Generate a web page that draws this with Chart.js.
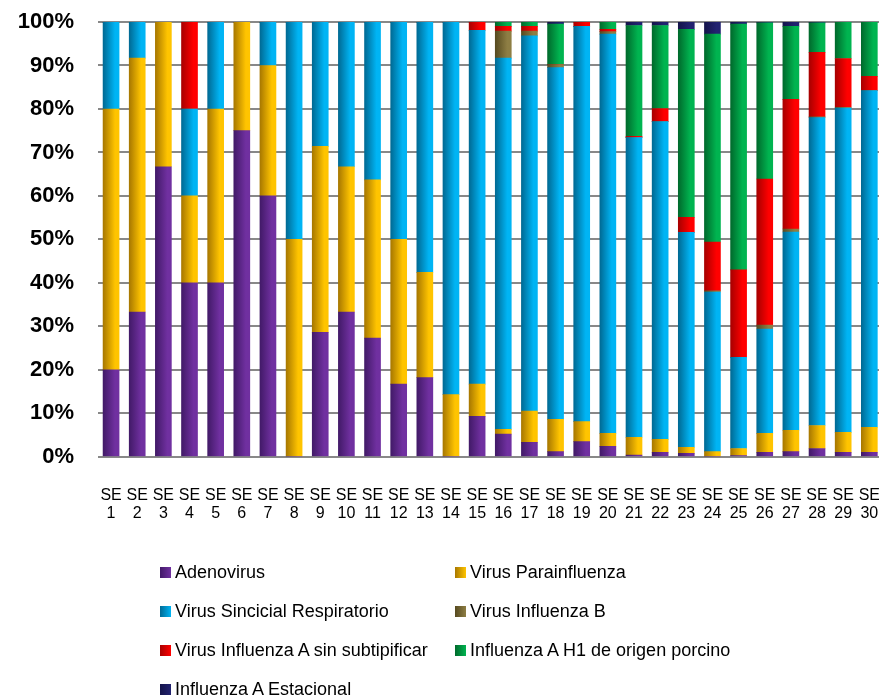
<!DOCTYPE html>
<html>
<head>
<meta charset="utf-8">
<script src="https://cdn.jsdelivr.net/npm/chart.js@4.4.1/dist/chart.umd.min.js"></script>
<style>
  html, body { margin: 0; padding: 0; background: #fff; overflow: hidden; }
  #wrap { position: relative; width: 884px; height: 696px; }
  #legend { position: absolute; left: 160px; top: 561px; width: 640px;
    display: grid; grid-template-columns: 295px 330px; row-gap: 17px;
    font-family: "Liberation Sans", Arial, sans-serif; font-size: 18px; color: #000; }
  .item { display: flex; align-items: center; height: 22px; white-space: nowrap; }
  .box { width: 11px; height: 11px; margin-right: 4px; }
</style>
</head>
<body>
<div id="wrap">
  <canvas id="chart" width="884" height="696"></canvas>
  <div id="legend"></div>
</div>
<script>
// data (percent of positive samples per epidemiological week)

const weeks = Array.from({ length: 30 }, (_, i) => ['SE', String(i + 1)]);

const adenovirus     = [20, 33.3, 66.7, 40, 40, 75, 60, 0, 28.6, 33.3, 27.3, 16.7, 18.2, 0, 9.3, 5.2, 3.3, 1.2, 3.5, 2.4, 0.4, 1.0, 0.8, 0, 0.3, 1.0, 1.2, 1.9, 1.0, 1.0];
const parainfluenza  = [60, 58.4, 33.3, 20, 40, 25, 30, 50, 42.8, 33.4, 36.4, 33.3, 24.2, 14.3, 7.4, 1.1, 7.2, 7.4, 4.6, 3.0, 4.1, 3.0, 1.4, 1.2, 1.6, 4.4, 4.9, 5.3, 4.6, 5.8];
const sincicial      = [20, 8.3, 0, 20, 20, 0, 10, 50, 28.6, 33.3, 36.3, 50, 57.6, 85.7, 81.4, 85.4, 86.3, 80.9, 90.9, 91.8, 68.9, 73.1, 49.4, 36.7, 21.0, 24.0, 45.6, 70.8, 74.6, 77.4];
const influenzaB     = [0, 0, 0, 0, 0, 0, 0, 0, 0, 0, 0, 0, 0, 0, 0, 6.2, 1.1, 0.7, 0, 0.6, 0, 0, 0, 0.3, 0, 0.9, 0.7, 0.2, 0.2, 0];
const influenzaASin  = [0, 0, 0, 20, 0, 0, 0, 0, 0, 0, 0, 0, 0, 0, 1.9, 1.1, 1.1, 0, 1.0, 0.5, 0.3, 3.0, 3.5, 11.2, 20.1, 33.6, 29.8, 14.8, 11.2, 3.3];
const h1Porcino      = [0, 0, 0, 0, 0, 0, 0, 0, 0, 0, 0, 0, 0, 0, 0, 1.0, 1.0, 9.3, 0, 1.7, 25.5, 19.1, 43.2, 47.8, 56.5, 35.9, 16.8, 6.8, 8.4, 12.5];
const estacional     = [0, 0, 0, 0, 0, 0, 0, 0, 0, 0, 0, 0, 0, 0, 0, 0, 0, 0.5, 0, 0, 0.8, 0.8, 1.7, 2.8, 0.5, 0.2, 1.0, 0.2, 0, 0];

const yTicks = [0, 10, 20, 30, 40, 50, 60, 70, 80, 90, 100];

// colours: dark edge, light edge of each bar
const series = [
  { label: 'Adenovirus', data: adenovirus, dark: '#421a68', light: '#7030a0' },
  { label: 'Virus Parainfluenza', data: parainfluenza, dark: '#a87800', light: '#ffc400' },
  { label: 'Virus Sincicial  Respiratorio', data: sincicial, dark: '#006a94', light: '#00b4f4' },
  { label: 'Virus Influenza B', data: influenzaB, dark: '#564a20', light: '#8e7e44' },
  { label: 'Virus Influenza A sin subtipificar', data: influenzaASin, dark: '#a80000', light: '#ff0000' },
  { label: 'Influenza A H1 de origen porcino', data: h1Porcino, dark: '#006a2c', light: '#00b450' },
  { label: 'Influenza A Estacional', data: estacional, dark: '#14144a', light: '#222270' }
];

const BAR = 16;

function barGradient(dark, light) {
  return function (context) {
    const chart = context.chart;
    const xs = chart.scales.x;
    if (!chart.chartArea || !xs) return light;
    const cx = xs.getPixelForValue(context.dataIndex);
    const g = chart.ctx.createLinearGradient(cx - BAR / 2, 0, cx + BAR / 2, 0);
    g.addColorStop(0, dark);
    g.addColorStop(0.75, light);
    g.addColorStop(1, light);
    return g;
  };
}

const ctx = document.getElementById('chart');

new Chart(ctx, {
  type: 'bar',
  data: {
    labels: weeks,
    datasets: series.map(s => ({
      label: s.label,
      data: s.data,
      backgroundColor: barGradient(s.dark, s.light),
      borderWidth: 0,
      barThickness: BAR
    }))
  },
  options: {
    responsive: false,
    animation: false,
    layout: { padding: { top: 22, right: 0, bottom: 170, left: 0 } },
    plugins: { legend: { display: false }, tooltip: { enabled: false } },
    scales: {
      x: {
        stacked: true,
        // invisible tick marks give the gap between axis and labels
        grid: { drawOnChartArea: false, drawTicks: true, tickLength: 26, tickColor: 'rgba(0,0,0,0)' },
        border: { display: false },
        ticks: {
          color: '#000',
          padding: 4,
          maxRotation: 0,
          autoSkip: false,
          font: { family: '"Liberation Sans", Arial, sans-serif', size: 16, lineHeight: 1.1 }
        }
      },
      y: {
        stacked: true,
        min: 0,
        max: 100,
        afterBuildTicks: axis => { axis.ticks = yTicks.map(v => ({ value: v })); },
        afterFit: axis => { axis.width = 98; axis.paddingTop = 0; axis.paddingBottom = 0; },
        grid: { color: '#888888', lineWidth: 2, drawTicks: false },
        border: { display: false },
        ticks: {
          color: '#000',
          padding: 24,
          callback: v => v + '%',
          font: { family: '"Liberation Sans", Arial, sans-serif', size: 22, weight: 'bold' }
        }
      }
    }
  }
});

// legend in two columns, like the original
const legend = document.getElementById('legend');
for (const s of series) {
  const item = document.createElement('div');
  item.className = 'item';
  const box = document.createElement('span');
  box.className = 'box';
  box.style.background = `linear-gradient(to right, ${s.dark}, ${s.light})`;
  const txt = document.createElement('span');
  txt.textContent = s.label;
  item.appendChild(box);
  item.appendChild(txt);
  legend.appendChild(item);
}
</script>
</body>
</html>
